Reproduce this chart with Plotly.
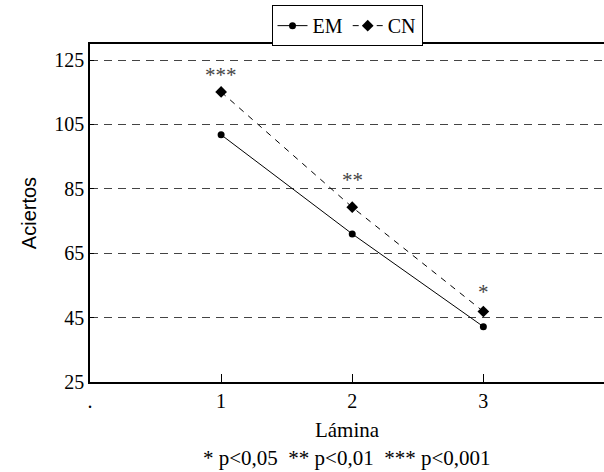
import plotly.graph_objects as go

laminas = [1, 2, 3]
em_values = [101.8, 71.0, 42.2]
cn_values = [115.1, 79.3, 46.9]
signif = ["***", "**", "*"]
signif_y = [121.4, 88.6, 53.8]
y_ticks = [25, 45, 65, 85, 105, 125]
x_ticks = [0, 1, 2, 3]
x_ticktext = [".", "1", "2", "3"]

serif = "Liberation Serif"
sans = "Liberation Sans"

fig = go.Figure()
fig.add_trace(go.Scatter(
    x=laminas, y=em_values, name="EM", mode="lines+markers",
    line=dict(color="black", width=1),
    marker=dict(symbol="circle", size=7, color="black"),
))
fig.add_trace(go.Scatter(
    x=laminas, y=cn_values, name="CN", mode="lines+markers",
    line=dict(color="black", width=1, dash="6px,6px"),
    marker=dict(symbol="diamond", size=9, color="black"),
))

for x, y, s in zip(laminas, signif_y, signif):
    fig.add_annotation(x=x, y=y, text=s, showarrow=False, yanchor="middle",
                       yshift=-3, font=dict(family=serif, size=21, color="#444"))

fig.add_annotation(x=0.5, y=-0.225, xref="paper", yref="paper",
                   text="* p<0,05&nbsp;&nbsp;** p<0,01&nbsp;&nbsp;*** p<0,001",
                   showarrow=False, font=dict(family=serif, size=21, color="black"), yanchor="middle")

fig.update_layout(
    width=604, height=472,
    margin=dict(l=90, r=0, t=44, b=90),
    plot_bgcolor="white", paper_bgcolor="white",
    showlegend=True,
    legend=dict(orientation="h", x=0.5, xanchor="center", y=1.115, yanchor="top",
                bordercolor="black", borderwidth=1, font=dict(family=serif, size=20, color="black"),
                itemwidth=30, tracegroupgap=0, bgcolor="white"),
    xaxis=dict(range=[0, 3.92], tickvals=x_ticks, ticktext=x_ticktext,
               showline=True, linecolor="black", linewidth=1.5, mirror=True,
               ticks="inside", ticklen=8, tickcolor="black", showgrid=False, zeroline=False,
               tickfont=dict(family=serif, size=20, color="black"),
               title=dict(text="Lámina", font=dict(family=serif, size=21, color="black"), standoff=12)),
    yaxis=dict(range=[25, 130], tickvals=y_ticks,
               showline=True, linecolor="black", linewidth=1.5,
               ticks="inside", ticklen=4, tickcolor="black",
               showgrid=True, gridcolor="#444", griddash="8px,6px", gridwidth=1, zeroline=False,
               tickfont=dict(family=serif, size=20, color="black"),
               title=dict(text="Aciertos", font=dict(family=sans, size=20, color="black"), standoff=12)),
)

fig.write_html("out.html", post_script="document.body.style.margin='0';",
               config={"displayModeBar": False})
